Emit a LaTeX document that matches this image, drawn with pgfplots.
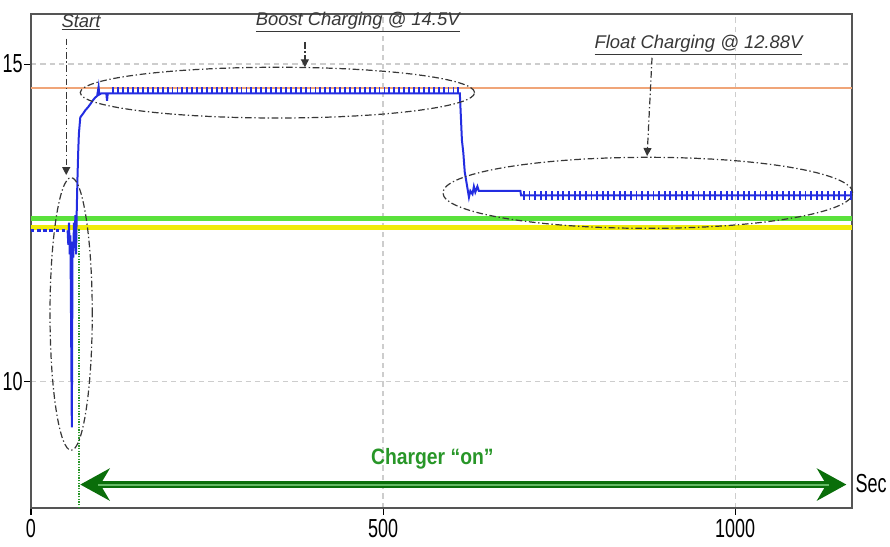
\documentclass[border=0pt]{standalone}
\usepackage{pgfplots}
\pgfplotsset{compat=1.18}
\usepackage{graphicx}
\usepackage{fontspec}
\setmainfont{Liberation Sans}
\usetikzlibrary{arrows.meta}

\definecolor{lineblue}{RGB}{35,45,225}
\definecolor{orangeline}{RGB}{240,165,120}
\definecolor{greenline}{RGB}{90,225,60}
\definecolor{yellowline}{RGB}{240,235,10}
\definecolor{annot}{RGB}{55,55,55}
\definecolor{txtgreen}{RGB}{40,150,40}
\definecolor{arrowdark}{RGB}{10,110,10}
\definecolor{arrowlight}{RGB}{100,185,100}
\definecolor{gridgray}{RGB}{205,205,205}
\definecolor{framegray}{RGB}{85,85,85}

\newcommand{\tl}[1]{\scalebox{1}[1.45]{\fontsize{13.5}{14}\selectfont #1}}

\begin{document}
\begin{tikzpicture}
\begin{axis}[
 scale only axis, width=615.75pt, height=370.5pt,
 xmin=0, xmax=1166, ymin=8, ymax=15.79,
 xtick={0,500,1000}, xticklabels={\tl{0},\tl{500},\tl{1000}},
 ytick={10,15}, yticklabels={\tl{10},\tl{15}},
 yticklabel style={inner xsep=1pt},
 xtick pos=bottom, ytick pos=left, tick align=outside,
 major tick length=5pt,
 tick style={black, line width=0.8pt},
 grid=major, major grid style={gridgray, dash pattern=on 4pt off 3pt, line width=0.9pt},
 axis line style={framegray, line width=1.6pt},
 clip=false,
]
% reference levels
\addplot[orangeline, line width=1.3pt] coordinates {(0,14.62)(1166,14.62)};
\addplot[greenline, line width=3.5pt] coordinates {(0,12.57)(1166,12.57)};
\addplot[yellowline, line width=3.5pt] coordinates {(0,12.42)(1166,12.42)};

% battery voltage
\addplot[lineblue, line width=2.6pt, dotted] coordinates {(0,12.38)(52,12.38)};
\addplot[lineblue, line width=1.5pt] coordinates {
(52,12.38)(53,12.15)(54,12.5)(55,12.0)(56,12.3)(58,9.27)(59,12.2)(60,11.95)(61,12.5)(62,12.1)(63,12.62)(64,12.0)(65,12.7)(66,13.2)(67,13.6)(68,13.9)(70,14.16)(74,14.22)(77,14.27)(81,14.32)(85,14.38)(88,14.43)(91,14.47)(94,14.50)(96,14.64)(97,14.52)(100,14.54)(107,14.54)(108,14.42)(109,14.54)(609,14.54)(610,14.3)(612,13.8)(614,13.6)(616,13.3)(619,13.1)(622,12.9)(624,13.0)(627,12.95)(629,13.07)(631,12.98)(634,13.07)(636,13.0)(695,13.0)(696,12.93)(1166,12.93)};
\addplot[lineblue, only marks, mark=|, mark size=2.5pt, mark options={line width=1.4pt}] coordinates {
(117,14.585)(124,14.585)(131,14.585)(138,14.585)(145,14.585)(152,14.585)(159,14.585)(166,14.585)(173,14.585)(180,14.585)(187,14.585)(194,14.585)(201,14.585)(208,14.585)(215,14.585)(222,14.585)(229,14.585)(236,14.585)(243,14.585)(250,14.585)(257,14.585)(264,14.585)(271,14.585)(278,14.585)(285,14.585)(292,14.585)(299,14.585)(306,14.585)(313,14.585)(320,14.585)(327,14.585)(334,14.585)(341,14.585)(348,14.585)(355,14.585)(362,14.585)(369,14.585)(376,14.585)(383,14.585)(390,14.585)(397,14.585)(404,14.585)(411,14.585)(418,14.585)(425,14.585)(432,14.585)(439,14.585)(446,14.585)(453,14.585)(460,14.585)(467,14.585)(474,14.585)(481,14.585)(488,14.585)(495,14.585)(502,14.585)(509,14.585)(516,14.585)(523,14.585)(530,14.585)(537,14.585)(544,14.585)(551,14.585)(558,14.585)(565,14.585)(572,14.585)(579,14.585)(586,14.585)(593,14.585)(600,14.585)(607,14.585)};
\addplot[lineblue, only marks, mark=|, mark size=3.2pt, mark options={line width=1.4pt}] coordinates {
(700,12.93)(708,12.93)(716,12.93)(724,12.93)(732,12.93)(740,12.93)(748,12.93)(756,12.93)(764,12.93)(772,12.93)(780,12.93)(788,12.93)(796,12.93)(804,12.93)(812,12.93)(820,12.93)(828,12.93)(836,12.93)(844,12.93)(852,12.93)(860,12.93)(868,12.93)(876,12.93)(884,12.93)(892,12.93)(900,12.93)(908,12.93)(916,12.93)(924,12.93)(932,12.93)(940,12.93)(948,12.93)(956,12.93)(964,12.93)(972,12.93)(980,12.93)(988,12.93)(996,12.93)(1004,12.93)(1012,12.93)(1020,12.93)(1028,12.93)(1036,12.93)(1044,12.93)(1052,12.93)(1060,12.93)(1068,12.93)(1076,12.93)(1084,12.93)(1092,12.93)(1100,12.93)(1108,12.93)(1116,12.93)(1124,12.93)(1132,12.93)(1140,12.93)(1148,12.93)(1156,12.93)(1164,12.93)};

% charger on marker
\draw[txtgreen, densely dotted, line width=1pt] (axis cs:68,8) -- (axis cs:68,12.4);

% annotations
\tikzset{dd/.style={annot, line width=0.9pt, dash pattern=on 5pt off 2pt on 1pt off 2pt}}
\draw[dd] (axis cs:57,11.06) ellipse [x radius=30, y radius=2.15];
\draw[dd] (axis cs:350,14.55) ellipse [x radius=280, y radius=0.40];
\draw[dd] (axis cs:876,12.97) ellipse [x radius=291, y radius=0.56];
\draw[dd, -{Triangle[length=6pt,width=6pt]}] (axis cs:50,15.4) -- (axis cs:50,13.25);
\draw[dd, -{Triangle[length=6pt,width=6pt]}] (axis cs:389,15.35) -- (axis cs:389,14.95);
\draw[dd, -{Triangle[length=6pt,width=6pt]}] (axis cs:882,15.1) -- (axis cs:875,13.55);
\node[annot, font=\fontsize{13.8}{15}\selectfont\itshape] at (axis cs:71,15.66) {\underline{Start}};
\node[annot, font=\fontsize{13.8}{15}\selectfont\itshape] at (axis cs:464,15.66) {\underline{Boost Charging @ 14.5V}};
\node[annot, font=\fontsize{13.8}{15}\selectfont\itshape] at (axis cs:948,15.30) {\underline{Float Charging @ 12.88V}};

\node[txtgreen, font=\fontsize{14.5}{16}\selectfont\bfseries] at (axis cs:570,8.77) {\scalebox{1}[1.15]{Charger “on”}};
\draw[arrowdark, line width=5pt, {Stealth[length=22pt,width=24pt,inset=7pt]}-{Stealth[length=22pt,width=24pt,inset=7pt]}] (axis cs:70,8.37) -- (axis cs:1158,8.37);
\draw[arrowlight, line width=1.5pt] (axis cs:95,8.37) -- (axis cs:1133,8.37);
\node[anchor=west, inner sep=0pt, xshift=2.5pt] at (axis cs:1166,8.39) {\tl{Sec}};
\end{axis}
\path ([shift={(-23.25pt,-28.5pt)}]current axis.south west) rectangle ([shift={(28.5pt,10.5pt)}]current axis.north east);
\end{tikzpicture}
\end{document}
